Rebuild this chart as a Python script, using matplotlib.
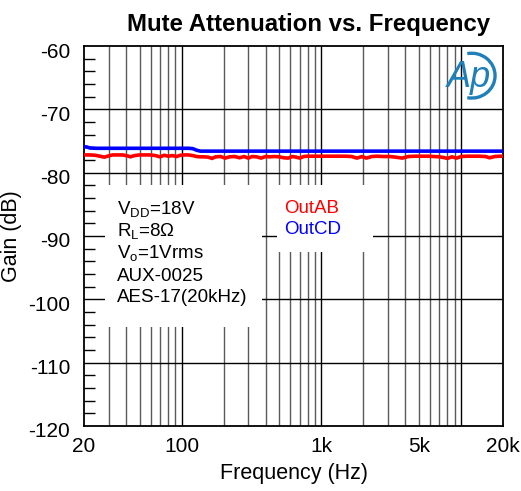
import numpy as np
import matplotlib
matplotlib.use('Agg')
import matplotlib.pyplot as plt
import matplotlib.transforms as mtransforms
from matplotlib.patches import Rectangle, Arc
from matplotlib.ticker import FixedLocator, NullFormatter

plt.rcParams['font.family'] = ['Liberation Sans', 'DejaVu Sans']
plt.rcParams['mathtext.fontset'] = 'custom'
plt.rcParams['mathtext.rm'] = 'Liberation Sans'
plt.rcParams['axes.unicode_minus'] = False

# frequency points (Hz)
freq = [20, 21, 22, 24, 26, 28, 30, 32, 35, 38, 41, 43, 46, 50, 55, 60, 65, 70,
        75, 80, 86, 92, 98, 105, 112, 120, 128, 136, 145, 155, 165, 175, 190,
        205, 220, 240, 260, 280, 300, 320, 345, 370, 400, 430, 460, 500, 540,
        580, 620, 660, 700, 750, 800, 860, 920, 1000, 1100, 1200, 1350, 1500,
        1650, 1800, 1950, 2100, 2300, 2500, 2800, 3100, 3400, 3800, 4200, 4700,
        5200, 5800, 6400, 7000, 7500, 8000, 8600, 9300, 10000, 11000, 12000,
        13500, 15000, 16000, 17500, 19000, 20000]

out_ab = [-77.2, -77.2, -77.2, -77.25, -77.4, -77.55, -77.35, -77.2, -77.2,
          -77.2, -77.35, -77.5, -77.3, -77.2, -77.2, -77.2, -77.3, -77.5,
          -77.25, -77.4, -77.3, -77.45, -77.25, -77.2, -77.2, -77.3, -77.45,
          -77.5, -77.5, -77.55, -77.75, -77.5, -77.45, -77.7, -77.5, -77.45,
          -77.65, -77.45, -77.7, -77.45, -77.5, -77.7, -77.45, -77.5, -77.45,
          -77.5, -77.65, -77.7, -77.45, -77.55, -77.7, -77.45, -77.4, -77.4,
          -77.4, -77.4, -77.4, -77.4, -77.4, -77.4, -77.45, -77.7, -77.45,
          -77.7, -77.45, -77.4, -77.45, -77.45, -77.55, -77.7, -77.45, -77.4,
          -77.4, -77.4, -77.45, -77.5, -77.6, -77.75, -77.5, -77.7, -77.45,
          -77.4, -77.4, -77.4, -77.45, -77.65, -77.45, -77.4, -77.4]

out_cd = [-75.9, -75.95, -76.1, -76.15, -76.15, -76.15, -76.15, -76.15, -76.15,
          -76.15, -76.15, -76.15, -76.15, -76.15, -76.15, -76.15, -76.15, -76.15,
          -76.15, -76.15, -76.15, -76.15, -76.15, -76.15, -76.15, -76.2, -76.45,
          -76.6, -76.6, -76.6, -76.6, -76.6, -76.6, -76.6, -76.6, -76.6, -76.6,
          -76.6, -76.6, -76.6, -76.6, -76.6, -76.6, -76.6, -76.6, -76.6, -76.6,
          -76.6, -76.6, -76.6, -76.6, -76.6, -76.6, -76.6, -76.6, -76.6, -76.6,
          -76.6, -76.6, -76.6, -76.6, -76.6, -76.6, -76.6, -76.6, -76.6, -76.6,
          -76.6, -76.6, -76.6, -76.6, -76.6, -76.6, -76.6, -76.6, -76.6, -76.6,
          -76.6, -76.6, -76.6, -76.6, -76.6, -76.6, -76.6, -76.6, -76.6, -76.6,
          -76.6, -76.6]

xticks = [20, 100, 1000, 5000, 20000]
xticklabels = ['20', '100', '1k', '5k', '20k']
yticks = [-120, -110, -100, -90, -80, -70, -60]
x_minor_grid = [30, 40, 50, 60, 70, 80, 90, 200, 300, 400, 500, 600, 700, 800,
                900, 2000, 3000, 4000, 5000, 6000, 7000, 8000, 9000]
x_major_grid = [100, 1000, 10000]

fig = plt.figure(figsize=(5.21, 4.91), dpi=100)
ax = fig.add_axes([0.1612, 0.1324, 0.8043, 0.7739])

ax.set_xscale('log')
ax.set_xlim(20, 20000)
ax.set_ylim(-120, -60)

# grid
for f in x_minor_grid:
    ax.axvline(f, color='#5a5a5a', lw=1.0, zorder=0.5)
for f in x_major_grid:
    ax.axvline(f, color='black', lw=1.0, zorder=0.5)
for g in yticks[1:-1]:
    ax.axhline(g, color='black', lw=1.0, zorder=0.5)

# white boxes behind the notes
ax.add_patch(Rectangle((0.050, 0.261), 0.375, 0.373, transform=ax.transAxes,
                       facecolor='white', edgecolor='none', zorder=1))
ax.add_patch(Rectangle((0.461, 0.458), 0.229, 0.176, transform=ax.transAxes,
                       facecolor='white', edgecolor='none', zorder=1))

ax.plot(freq, out_ab, color='#ff0000', lw=2.6, zorder=3)
ax.plot(freq, out_cd, color='#0000ff', lw=2.6, zorder=3)

ax.set_xticks(xticks)
ax.set_xticklabels(xticklabels)
ax.xaxis.set_minor_locator(FixedLocator([]))
ax.xaxis.set_minor_formatter(NullFormatter())
ax.set_yticks(yticks)
ax.set_yticks(np.arange(-118, -60, 2), minor=True)
ax.tick_params(axis='both', which='major', length=0, labelsize=15)
ax.tick_params(axis='x', which='major', pad=8)
ax.tick_params(axis='y', which='major', pad=10)
ax.tick_params(axis='y', which='minor', direction='in', length=8, width=1,
               left=True, right=False)
for s in ax.spines.values():
    s.set_linewidth(1.3)

# y labels sit a little below their grid lines in the original
shift = mtransforms.ScaledTranslation(0, -4 / 100, fig.dpi_scale_trans)
for lbl in ax.get_yticklabels():
    lbl.set_transform(lbl.get_transform() + shift)

ax.set_xlabel('Frequency (Hz)', fontsize=15.5, labelpad=5)
ax.set_ylabel('Gain (dB)', fontsize=15.5)
ax.yaxis.set_label_coords(-0.148, 0.5)
ax.set_title('Mute Attenuation vs. Frequency', fontsize=17.3, fontweight='bold',
             pad=11, x=0.535)

notes = ['V$_{\\mathrm{DD}}$=18V', 'R$_{\\mathrm{L}}$=8Ω', 'V$_{\\mathrm{o}}$=1Vrms',
         'AUX-0025', 'AES-17(20kHz)']
for i, t in enumerate(notes):
    ax.text(0.078, 0.555 - i * 0.0575, t, transform=ax.transAxes, fontsize=13.5,
            va='baseline', zorder=4)

ax.text(0.477, 0.561, 'OutAB', color='#ff0000', transform=ax.transAxes,
        fontsize=13.5, va='baseline', zorder=4)
ax.text(0.477, 0.505, 'OutCD', color='#0000ff', transform=ax.transAxes,
        fontsize=13.5, va='baseline', zorder=4)

# Ap logo
logo = '#1f7fb8'
ax.text(0.918, 0.918, 'Ap', color=logo, transform=ax.transAxes, fontsize=26,
        style='italic', family=['Liberation Sans Narrow', 'Liberation Sans'],
        ha='center', va='center', zorder=4)
ax.add_patch(Arc((0.925, 0.922), 0.112, 0.118, theta1=-100, theta2=100,
                 transform=ax.transAxes, color=logo, lw=2.4, zorder=4))

fig.savefig('out.png', dpi=100)
